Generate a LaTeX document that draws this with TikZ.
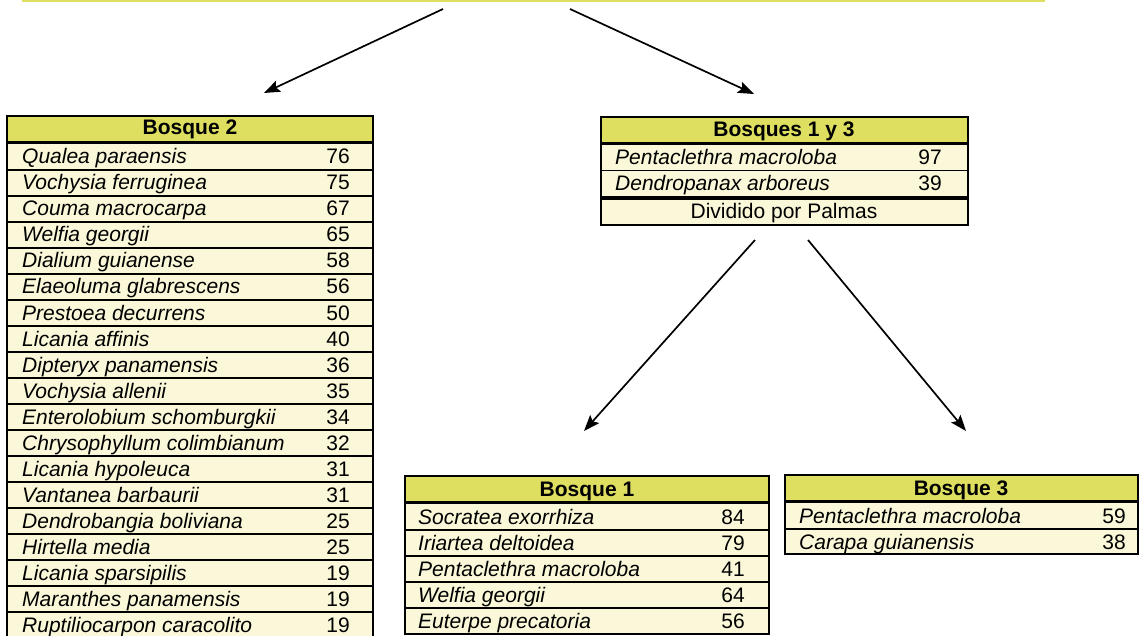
\documentclass[tikz,border=0pt]{standalone}
\usepackage{fontspec}
\setmainfont{Liberation Sans}
\usetikzlibrary{arrows.meta}
\definecolor{hdr}{RGB}{222,223,96}
\definecolor{rowc}{RGB}{250,248,216}
\newcommand{\tabfont}{\fontsize{21}{24}\selectfont}
\tikzset{
  hdrtxt/.style={font=\tabfont\bfseries, anchor=base, inner sep=0pt},
  plaintxt/.style={font=\tabfont, anchor=base, inner sep=0pt},
  nametxt/.style={font=\tabfont\itshape, anchor=base west, inner sep=0pt},
  numtxt/.style={font=\tabfont, anchor=base east, inner sep=0pt},
  frame/.style={draw=black, line width=2.2pt},
  sepline/.style={draw=black, line width=1.8pt},
  hsepline/.style={draw=black, line width=3.4pt},
  arr/.style={-{Stealth[length=16pt,width=12pt,inset=3pt]}, line width=1.7pt}
}
\begin{document}
\begin{tikzpicture}[x=1pt,y=-1pt]
\useasboundingbox (0,0) rectangle (1140,636);
\clip (0,0) rectangle (1140,636);
\fill[white] (0,0) rectangle (1140,636);

% top fragment line
\draw[hdr, line width=2.5pt] (22,0.5) -- (1045,0.5);

% ---------- Bosque 2 ----------
\fill[rowc] (7,116) rectangle (373,645);
\fill[hdr] (7,116) rectangle (373,142);
\node[hdrtxt] (b2h) at (190,135) {Bosque 2};
\foreach \n/\v [count=\i from 0] in {
  Qualea paraensis/76, Vochysia ferruginea/75, Couma macrocarpa/67,
  Welfia georgii/65, Dialium guianense/58, Elaeoluma glabrescens/56,
  Prestoea decurrens/50, Licania affinis/40, Dipteryx panamensis/36,
  Vochysia allenii/35, Enterolobium schomburgkii/34,
  Chrysophyllum colimbianum/32, Licania hypoleuca/31,
  Vantanea barbaurii/31, Dendrobangia boliviana/25, Hirtella media/25,
  Licania sparsipilis/19, Maranthes panamensis/19,
  Ruptiliocarpon caracolito/19}{
  \node[nametxt] (b2n\i) at (22,{164+26*\i}) {\n};
  \node[numtxt] (b2v\i) at (350,{164+26*\i}) {\v};
}
\foreach \i in {0,...,17}{
  \draw[sepline] (7,{170+26*\i}) -- (373,{170+26*\i});
}
\draw[hsepline] (7,142.5) -- (373,142.5);
\draw[frame] (7,116) rectangle (373,645);

% ---------- Bosques 1 y 3 ----------
\fill[rowc] (601,117) rectangle (968,225);
\fill[hdr] (601,117) rectangle (968,143);
\node[hdrtxt] (b13h) at (784,137) {Bosques 1 y 3};
\node[nametxt] (b13n0) at (615,165) {Pentaclethra macroloba};
\node[numtxt] (b13v0) at (942,165) {97};
\node[nametxt] (b13n1) at (615,191) {Dendropanax arboreus};
\node[numtxt] (b13v1) at (942,191) {39};
\node[plaintxt] (b13d) at (784,219) {Dividido por Palmas};
\draw[sepline] (601,170.5) -- (968,170.5);
\draw[hsepline] (601,143.5) -- (968,143.5);
\draw[hsepline] (601,198) -- (968,198);
\draw[frame] (601,117) rectangle (968,225);

% ---------- Bosque 1 ----------
\fill[rowc] (405,476) rectangle (769,634);
\fill[hdr] (405,476) rectangle (769,502);
\node[hdrtxt] (b1h) at (587,496.5) {Bosque 1};
\foreach \n/\v [count=\i from 0] in {
  Socratea exorrhiza/84, Iriartea deltoidea/79, Pentaclethra macroloba/41,
  Welfia georgii/64, Euterpe precatoria/56}{
  \node[nametxt] (b1n\i) at (418,{524+26*\i}) {\n};
  \node[numtxt] (b1v\i) at (745,{524+26*\i}) {\v};
}
\foreach \i in {0,...,3}{
  \draw[sepline] (405,{530+26*\i}) -- (769,{530+26*\i});
}
\draw[hsepline] (405,502.5) -- (769,502.5);
\draw[frame] (405,476) rectangle (769,634);

% ---------- Bosque 3 ----------
\fill[rowc] (785,475) rectangle (1138,554);
\fill[hdr] (785,475) rectangle (1138,501);
\node[hdrtxt] (b3h) at (961,495.5) {Bosque 3};
\node[nametxt] (b3n0) at (799,523) {Pentaclethra macroloba};
\node[numtxt] (b3v0) at (1126,523) {59};
\node[nametxt] (b3n1) at (799,549) {Carapa guianensis};
\node[numtxt] (b3v1) at (1126,549) {38};
\draw[sepline] (785,529) -- (1138,529);
\draw[hsepline] (785,501.5) -- (1138,501.5);
\draw[frame] (785,475) rectangle (1138,554);

% ---------- arrows ----------
\coordinate (a1s) at (443,9);   \coordinate (a1e) at (264,93);
\coordinate (a2s) at (570,9);   \coordinate (a2e) at (754,94);
\coordinate (a3s) at (755,240); \coordinate (a3e) at (584,431);
\coordinate (a4s) at (808,240); \coordinate (a4e) at (966,431);
\draw[arr] (a1s) -- (a1e);
\draw[arr] (a2s) -- (a2e);
\draw[arr] (a3s) -- (a3e);
\draw[arr] (a4s) -- (a4e);
\end{tikzpicture}
\end{document}
